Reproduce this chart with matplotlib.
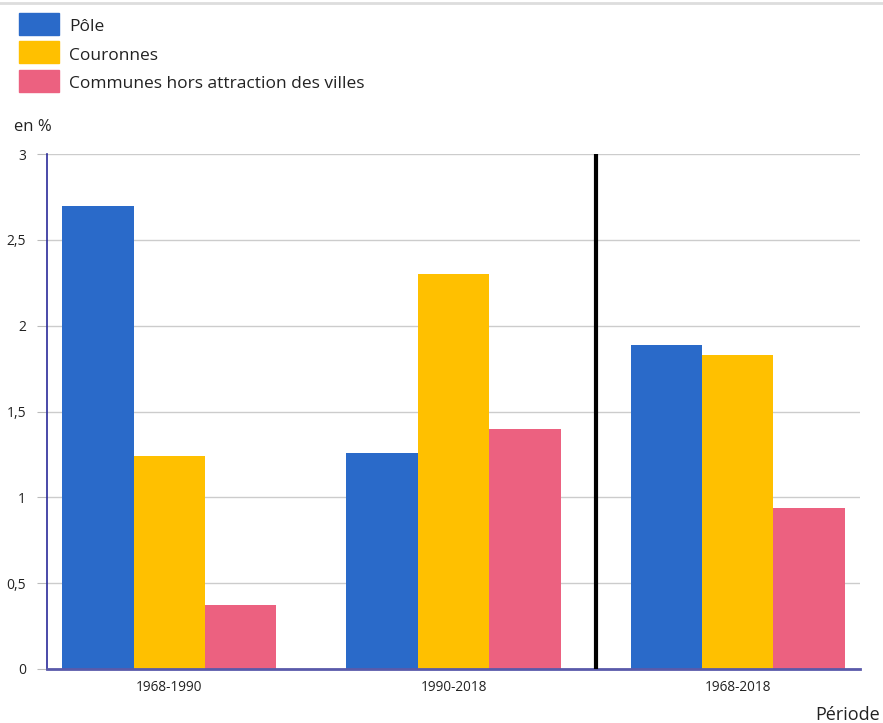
import matplotlib
matplotlib.use("Agg")
import matplotlib.pyplot as plt
from matplotlib.patches import Rectangle
from matplotlib.lines import Line2D
import numpy as np

plt.rcParams['font.family'] = ['Open Sans', 'DejaVu Sans']

periodes = ["1968-1990", "1990-2018", "1968-2018"]
series = ["Pôle", "Couronnes", "Communes hors attraction des villes"]
pole = [2.70, 1.26, 1.89]
couronnes = [1.24, 2.30, 1.83]
hors_attraction = [0.37, 1.40, 0.94]
y_ticks = [0, 0.5, 1, 1.5, 2, 2.5, 3]
y_tick_labels = ["0", "0,5", "1", "1,5", "2", "2,5", "3"]

colors = ["#2A6AC9", "#FFC000", "#EC6180"]
values = [pole, couronnes, hors_attraction]

fig = plt.figure(figsize=(8.83, 7.23), dpi=100)
ax = fig.add_axes([47 / 883, 1 - 669 / 723, (860 - 47) / 883, (669 - 154) / 723])

x = np.arange(len(periodes))
width = 0.251
for i, (vals, col) in enumerate(zip(values, colors)):
    ax.bar(x + (i - 1) * width, vals, width=width, color=col, zorder=3,
           edgecolor="none")

ax.set_xlim(-0.43, 2.43)
ax.set_ylim(0, 3)
ax.set_yticks(y_ticks)
ax.set_yticklabels(y_tick_labels, fontsize=10, color="#222222")
ax.set_xticks(x)
ax.set_xticklabels(periodes, fontsize=9.8, color="#222222")
ax.tick_params(axis="y", length=7, color="#bbbbbb", pad=8)
ax.tick_params(axis="x", length=0, pad=8)
ax.grid(axis="y", color="#cccccc", linewidth=1, zorder=0)

for side in ["top", "right"]:
    ax.spines[side].set_visible(False)
ax.spines["left"].set_color("#2b2b9a")
ax.spines["left"].set_linewidth(1.2)
ax.spines["bottom"].set_color("#5a5aaa")
ax.spines["bottom"].set_linewidth(2)
ax.spines["left"].set_zorder(4)
ax.spines["bottom"].set_zorder(4)

# separator between the sub-periods and the whole period
ax.axvline(1.5, color="black", linewidth=3, zorder=5)

# axis titles
fig.text(14 / 883, 1 - 127 / 723, "en %", fontsize=12, color="#222222", va="center")
fig.text(880 / 883, 1 - 715 / 723, "Période", fontsize=13, color="#222222",
         ha="right", va="center")

# legend
patch_top = [13, 41, 70]
text_y = [27, 56, 84]
for lab, col, top, ty in zip(series, colors, patch_top, text_y):
    fig.patches.append(Rectangle((19 / 883, 1 - (top + 22) / 723), 40 / 883, 22 / 723,
                                 transform=fig.transFigure, color=col, figure=fig))
    fig.text(69 / 883, 1 - ty / 723, lab, fontsize=12.5, color="#222222", va="center")

# thin rule along the top edge
fig.add_artist(Line2D([0, 1], [1 - 2.5 / 723, 1 - 2.5 / 723], transform=fig.transFigure,
                      color="#dddddd", linewidth=2))

fig.savefig("out.png", dpi=100)
